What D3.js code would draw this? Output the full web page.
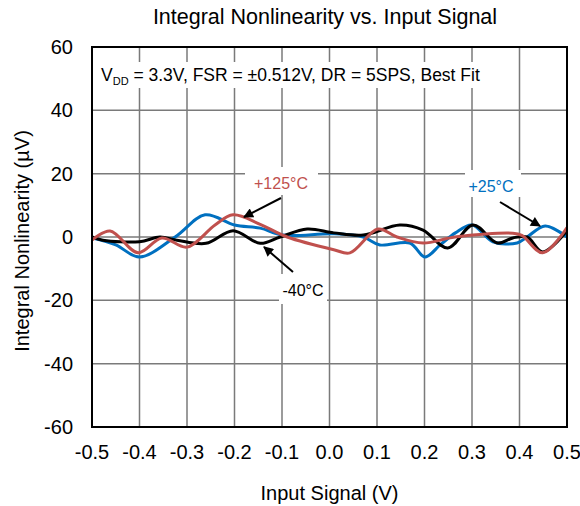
<!DOCTYPE html>
<html lang="en">
<head>
<meta charset="UTF-8">
<title>Integral Nonlinearity vs. Input Signal</title>
<script src="https://d3js.org/d3.v7.min.js"></script>
<style>
    body { margin: 0; background: #fff; }
    text { font-family: "Liberation Sans", Arial, sans-serif; }
</style>
</head>
<body>
<svg id="chart" width="580" height="506"></svg>
<script>
// data (x in V, y in µV)
const xTicks = [-0.5, -0.4, -0.3, -0.2, -0.1, 0.0, 0.1, 0.2, 0.3, 0.4, 0.5];
const yTicks = [-60, -40, -20, 0, 20, 40, 60];

const blueX = [-0.5, -0.45, -0.4, -0.325, -0.262, -0.2, -0.146, -0.098, 0.009, 0.071, 0.106, 0.169, 0.201, 0.233, 0.265, 0.3, 0.344, 0.395, 0.416, 0.454, 0.5];
const blueY = [-0.3, -2.5, -6.3, 0, 7, 3.8, 2.8, 0.6, 1, 0, -2.5, -1.9, -6.3, -2.5, 1.3, 3.8, -1.5, -1.9, 0, 3.5, 0];

const blackX = [-0.5, -0.477, -0.4, -0.357, -0.321, -0.26, -0.203, -0.146, -0.104, -0.047, 0.009, 0.071, 0.148, 0.197, 0.249, 0.302, 0.353, 0.386, 0.416, 0.449, 0.5];
const blackY = [0, -1, -1.5, 0, -1, -2, 2, -2, 0, 2.5, 1.3, 0.6, 3.8, 2.2, -3.5, 3.8, -1.9, -0.3, 0, -4.7, 2];

const redX = [-0.5, -0.462, -0.403, -0.353, -0.3, -0.241, -0.203, -0.146, -0.089, 0.009, 0.043, 0.102, 0.142, 0.197, 0.264, 0.386, 0.405, 0.449, 0.5];
const redY = [-1, 1.9, -5, -0.3, -3.2, 3.8, 7, 4, 0, -4, -5, 2.5, 0, -1.9, 0, 1.2, 0.5, -5, 3];

const seriesNames = ["-40°C", "+25°C", "+125°C"];
const seriesColors = ["#000000", "#0070c0", "#c0504d"];

const svg = d3.select("#chart");
const margin = { top: 47, right: 13, bottom: 79, left: 92 };
const width = 580 - margin.left - margin.right;
const height = 506 - margin.top - margin.bottom;

const x = d3.scaleLinear().domain([-0.5, 0.5]).range([margin.left, margin.left + width]);
const y = d3.scaleLinear().domain([-60, 60]).range([margin.top + height, margin.top]);

// grid
svg.append("g")
    .selectAll("line")
    .data(xTicks.slice(1, -1))
    .enter().append("line")
    .attr("x1", d => x(d)).attr("x2", d => x(d))
    .attr("y1", y(60)).attr("y2", y(-60))
    .attr("stroke", "#7a7a7a").attr("stroke-width", 1.5);

svg.append("g")
    .selectAll("line")
    .data(yTicks.slice(1, -1))
    .enter().append("line")
    .attr("x1", x(-0.5)).attr("x2", x(0.5))
    .attr("y1", d => y(d)).attr("y2", d => y(d))
    .attr("stroke", "#7a7a7a").attr("stroke-width", 1.5);

// tick labels
svg.append("g")
    .selectAll("text")
    .data(xTicks)
    .enter().append("text")
    .attr("x", d => x(d))
    .attr("y", y(-60) + 32)
    .attr("text-anchor", "middle")
    .attr("font-size", 20)
    .text(d => d3.format(".1f")(d).replace("−", "-"));

svg.append("g")
    .selectAll("text")
    .data(yTicks)
    .enter().append("text")
    .attr("x", x(-0.5) - 19)
    .attr("y", d => y(d) + 7)
    .attr("text-anchor", "end")
    .attr("font-size", 20)
    .text(d => d);

// curves
const line = d3.line()
    .x(d => x(d[0]))
    .y(d => y(d[1]))
    .curve(d3.curveCatmullRom.alpha(0.5));

const series = [
    d3.zip(blackX, blackY),
    d3.zip(blueX, blueY),
    d3.zip(redX, redY)
];

svg.append("clipPath").attr("id", "plotClip")
    .append("rect")
    .attr("x", x(-0.5)).attr("y", y(60))
    .attr("width", width).attr("height", height);

const curves = svg.append("g").attr("clip-path", "url(#plotClip)");
// draw order: blue, black, red (red on top)
[1, 0, 2].forEach(i => {
    curves.append("path")
        .datum(series[i])
        .attr("d", line)
        .attr("fill", "none")
        .attr("stroke", seriesColors[i])
        .attr("stroke-width", 3);
});

// frame
svg.append("rect")
    .attr("x", x(-0.5)).attr("y", y(60))
    .attr("width", width).attr("height", height)
    .attr("fill", "none")
    .attr("stroke", "#000")
    .attr("stroke-width", 2);

// condition box
svg.append("rect")
    .attr("x", x(-0.5) + 2).attr("y", 62)
    .attr("width", 400).attr("height", 26)
    .attr("fill", "#fff");

const cond = svg.append("text")
    .attr("x", x(-0.5) + 9)
    .attr("y", 81)
    .attr("font-size", 17.5);
cond.append("tspan").text("V");
cond.append("tspan").attr("font-size", 11).attr("dy", 4).text("DD");
cond.append("tspan").attr("dy", -4).text(" = 3.3V, FSR = ±0.512V, DR = 5SPS, Best Fit");

// annotations
const notes = [
    { name: seriesNames[2], color: seriesColors[2], tx: 281, ty: 189, box: [245, 167, 73, 28], arrow: [[281, 198], [244, 217]] },
    { name: seriesNames[0], color: seriesColors[0], tx: 303, ty: 296, box: [279, 274, 48, 30], arrow: [[293, 272], [264, 247]] },
    { name: seriesNames[1], color: seriesColors[1], tx: 491, ty: 192, box: [465, 170, 56, 27], arrow: [[500, 202], [540, 226]] }
];

svg.append("defs").append("marker")
    .attr("id", "arrowHead")
    .attr("viewBox", "0 0 10 10")
    .attr("refX", 9).attr("refY", 5)
    .attr("markerWidth", 6).attr("markerHeight", 5)
    .attr("markerUnits", "strokeWidth")
    .attr("orient", "auto")
    .append("path")
    .attr("d", "M0,0 L10,5 L0,10 z")
    .attr("fill", "#000");

notes.forEach(n => {
    svg.append("rect")
        .attr("x", n.box[0]).attr("y", n.box[1])
        .attr("width", n.box[2]).attr("height", n.box[3])
        .attr("fill", "#fff");
    svg.append("text")
        .attr("x", n.tx).attr("y", n.ty)
        .attr("text-anchor", "middle")
        .attr("font-size", 16)
        .attr("fill", n.color)
        .text(n.name);
    svg.append("line")
        .attr("x1", n.arrow[0][0]).attr("y1", n.arrow[0][1])
        .attr("x2", n.arrow[1][0]).attr("y2", n.arrow[1][1])
        .attr("stroke", "#000")
        .attr("stroke-width", 2)
        .attr("marker-end", "url(#arrowHead)");
});

// titles
svg.append("text")
    .attr("x", 325).attr("y", 24)
    .attr("text-anchor", "middle")
    .attr("font-size", 21.5)
    .text("Integral Nonlinearity vs. Input Signal");

svg.append("text")
    .attr("x", x(0)).attr("y", 500)
    .attr("text-anchor", "middle")
    .attr("font-size", 20)
    .text("Input Signal (V)");

svg.append("text")
    .attr("transform", "translate(29,241) rotate(-90)")
    .attr("text-anchor", "middle")
    .attr("font-size", 20)
    .text("Integral Nonlinearity (µV)");
</script>
</body>
</html>
